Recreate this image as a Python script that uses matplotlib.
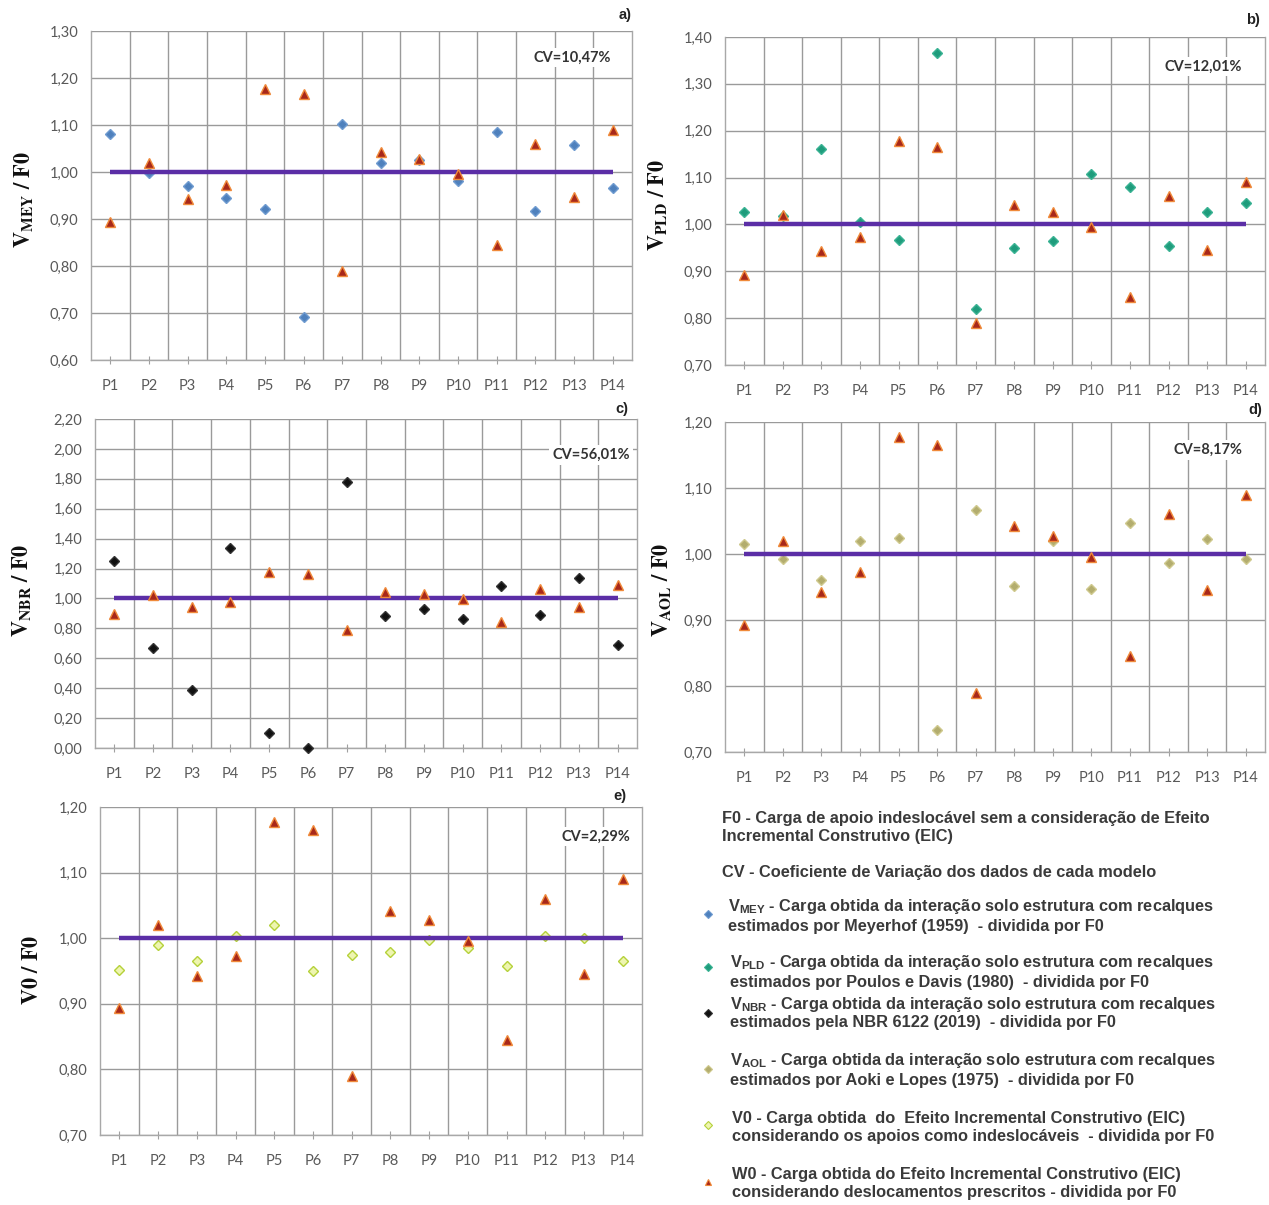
import matplotlib
matplotlib.use("Agg")
import matplotlib.pyplot as plt
from matplotlib.lines import Line2D
from matplotlib.ticker import FuncFormatter, FixedLocator

plt.rcParams['mathtext.fontset'] = 'custom'
plt.rcParams['mathtext.rm'] = 'Liberation Sans:bold'
plt.rcParams['mathtext.bf'] = 'Liberation Sans:bold'
plt.rcParams['mathtext.it'] = 'Liberation Sans:bold'

# ---------------- data ----------------
piles = ['P1', 'P2', 'P3', 'P4', 'P5', 'P6', 'P7', 'P8', 'P9', 'P10', 'P11', 'P12', 'P13', 'P14']
w0 = [0.893, 1.020, 0.943, 0.973, 1.177, 1.165, 0.790, 1.042, 1.027, 0.995, 0.845, 1.060, 0.946, 1.090]
v_mey = [1.080, 0.997, 0.970, 0.945, 0.922, 0.692, 1.102, 1.020, 1.025, 0.980, 1.085, 0.918, 1.057, 0.965]
v_pld = [1.027, 1.018, 1.160, 1.005, 0.967, 1.365, 0.820, 0.950, 0.965, 1.108, 1.080, 0.955, 1.027, 1.045]
v_nbr = [1.25, 0.67, 0.39, 1.34, 0.10, 0.00, 1.78, 0.88, 0.93, 0.86, 1.085, 0.89, 1.135, 0.69]
v_aol = [1.015, 0.993, 0.960, 1.020, 1.024, 0.733, 1.067, 0.951, 1.020, 0.947, 1.047, 0.986, 1.022, 0.993]
v0 = [0.952, 0.989, 0.966, 1.004, 1.020, 0.950, 0.975, 0.979, 0.998, 0.985, 0.957, 1.003, 1.000, 0.966]
reference = 1.00

cv_labels = ['CV=10,47%', 'CV=12,01%', 'CV=56,01%', 'CV=8,17%', 'CV=2,29%']
panel_letters = ['a)', 'b)', 'c)', 'd)', 'e)']
ylims = [(0.60, 1.30, 0.10), (0.70, 1.40, 0.10), (0.00, 2.20, 0.20), (0.70, 1.20, 0.10), (0.70, 1.20, 0.10)]

legend_lines = [
    ('F0 - Carga de apoio indeslocável sem a consideração de Efeito', 'Incremental Construtivo (EIC)'),
    ('CV - Coeficiente de Variação dos dados de cada modelo', None),
    (r'V$_{\rm MEY}$ - Carga obtida da interação solo estrutura com recalques',
     'estimados por Meyerhof (1959)  - dividida por F0'),
    (r'V$_{\rm PLD}$ - Carga obtida da interação solo estrutura com recalques',
     'estimados por Poulos e Davis (1980)  - dividida por F0'),
    (r'V$_{\rm NBR}$ - Carga obtida da interação solo estrutura com recalques',
     'estimados pela NBR 6122 (2019)  - dividida por F0'),
    (r'V$_{\rm AOL}$ - Carga obtida da interação solo estrutura com recalques',
     'estimados por Aoki e Lopes (1975)  - dividida por F0'),
    ('V0 - Carga obtida  do  Efeito Incremental Construtivo (EIC)',
     'considerando os apoios como indeslocáveis  - dividida por F0'),
    ('W0 - Carga obtida do Efeito Incremental Construtivo (EIC)',
     'considerando deslocamentos prescritos - dividida por F0'),
]

# ---------------- styles ----------------
W, H = 1269, 1205
fig = plt.figure(figsize=(W / 100, H / 100), dpi=100)
fig.patch.set_facecolor('white')

series_styles = [
    dict(marker='D', mfc='#4f81bd', mec='#6f9bd0'),
    dict(marker='D', mfc='#1f9c7c', mec='#3bb394'),
    dict(marker='D', mfc='#111111', mec='#333333'),
    dict(marker='D', mfc='#b3ad6e', mec='#cfc98e'),
    dict(marker='D', mfc='#eef5b0', mec='#b5d13a'),
]
tri_style = dict(marker='^', mfc='#a8281a', mec='#f08a3a')
series = [v_mey, v_pld, v_nbr, v_aol, v0]
ylabels = [r'$\mathbf{V_{MEY}\ /\ F0}$', r'$\mathbf{V_{PLD}\ /\ F0}$', r'$\mathbf{V_{NBR}\ /\ F0}$',
           r'$\mathbf{V_{AOL}\ /\ F0}$', r'$\mathbf{V0\ /\ F0}$']

# pixel boxes (left, right, top, bottom)
boxes = [(91, 632, 31, 360), (725, 1265, 37, 365), (95, 637, 419, 748),
         (725, 1265, 422, 752), (100, 642, 807, 1135)]
cv_pos = [(0.89, 0.92), (0.885, 0.91), (0.915, 0.89), (0.895, 0.915), (0.915, 0.91)]
letter_px = [(625, 15), (1253, 20), (622, 409), (1255, 410), (620, 796)]
ylabel_px = [(24, 200), (658, 205), (22, 590), (662, 590), (32, 970)]

tick_font = dict(family='Lato', size=10.5, color='#595959')

for i in range(5):
    l, r, t, b = boxes[i]
    ax = fig.add_axes([l / W, 1 - b / H, (r - l) / W, (b - t) / H])
    x = list(range(1, len(piles) + 1))
    lo, hi, step = ylims[i]
    ax.set_xlim(0.5, len(piles) + 0.5)
    ax.set_ylim(lo, hi)
    nt = int(round((hi - lo) / step))
    yt = [lo + k * step for k in range(nt + 1)]
    ax.yaxis.set_major_locator(FixedLocator(yt))
    ax.yaxis.set_major_formatter(FuncFormatter(lambda v, p: f'{v:.2f}'.replace('.', ',')))
    ax.set_xticks(x)
    ax.set_xticklabels(piles)
    ax.set_xticks([k + 0.5 for k in range(1, len(piles))], minor=True)
    for lab in ax.get_xticklabels() + ax.get_yticklabels():
        lab.set_fontfamily(tick_font['family'])
        lab.set_fontsize(tick_font['size'])
        lab.set_color(tick_font['color'])
    ax.tick_params(axis='x', which='major', direction='inout', length=6, color='#a0a0a0', pad=11)
    ax.tick_params(axis='x', which='minor', length=0)
    ax.tick_params(axis='y', which='major', length=0, pad=9)
    ax.grid(True, axis='y', which='major', color='#9a9a9a', lw=1.0)
    ax.grid(True, axis='x', which='minor', color='#9a9a9a', lw=1.0)
    ax.grid(False, axis='x', which='major')
    ax.set_axisbelow(True)
    ax.spines['top'].set_visible(False)
    for s in ['left', 'bottom', 'right']:
        ax.spines[s].set_color('#a8a8a8')
        ax.spines[s].set_linewidth(1.0)

    st = series_styles[i]
    ax.plot(x, series[i], ls='none', marker=st['marker'], ms=5.5, mfc=st['mfc'], mec=st['mec'],
            mew=1.0, zorder=3, clip_on=False)
    ax.plot([x[0], x[-1]], [reference, reference], color='#5b2ea6', lw=3.2, zorder=4,
            solid_capstyle='butt')
    ax.plot(x, w0, ls='none', marker=tri_style['marker'], ms=6.5, mfc=tri_style['mfc'],
            mec=tri_style['mec'], mew=1.0, zorder=5)

    ax.text(cv_pos[i][0], cv_pos[i][1], cv_labels[i], transform=ax.transAxes, ha='center', va='center',
            fontsize=10.5, fontweight='bold', family='Lato', color='#333333',
            bbox=dict(facecolor='white', edgecolor='none', pad=2), zorder=6)

    lx, ly = letter_px[i]
    fig.text(lx / W, 1 - ly / H, panel_letters[i], ha='center', va='center', fontsize=10.5,
             fontweight='bold', family='Liberation Sans', color='#222222')
    yx, yy = ylabel_px[i]
    fig.text(yx / W, 1 - yy / H, ylabels[i], ha='center', va='center', rotation=90,
             fontsize=16, math_fontfamily='stix', color='#111111')

# ---------------- legend text block ----------------
leg_y = [(818, 837), (872, None), (907, 927), (962, 982), (1004, 1023),
         (1061, 1080), (1118, 1137), (1174, 1193)]
leg_x = [722, 722, 728, 730, 730, 730, 732, 732]
leg_marker_y = [None, None, 914, 967, 1013, 1069, 1125, 1182]
leg_marker_style = [None, None] + series_styles + [tri_style]
leg_size = 11.8

for k, (l1, l2) in enumerate(legend_lines):
    y1, y2 = leg_y[k]
    fig.text(leg_x[k] / W, 1 - y1 / H, l1, ha='left', va='center', fontsize=leg_size, fontweight='bold',
             family='Liberation Sans', color='#3a3a3a', math_fontfamily='custom')
    if l2 is not None:
        fig.text(leg_x[k] / W, 1 - y2 / H, l2, ha='left', va='center', fontsize=leg_size, fontweight='bold',
                 family='Liberation Sans', color='#3a3a3a')
    if leg_marker_y[k] is not None:
        st = leg_marker_style[k]
        fig.lines.append(Line2D([708 / W], [1 - leg_marker_y[k] / H], transform=fig.transFigure,
                                ls='none', marker=st['marker'],
                                ms=4 if st['marker'] == 'D' else 5,
                                mfc=st['mfc'], mec=st['mec'], mew=0.8))

fig.savefig('out.png', dpi=100, facecolor='white')
